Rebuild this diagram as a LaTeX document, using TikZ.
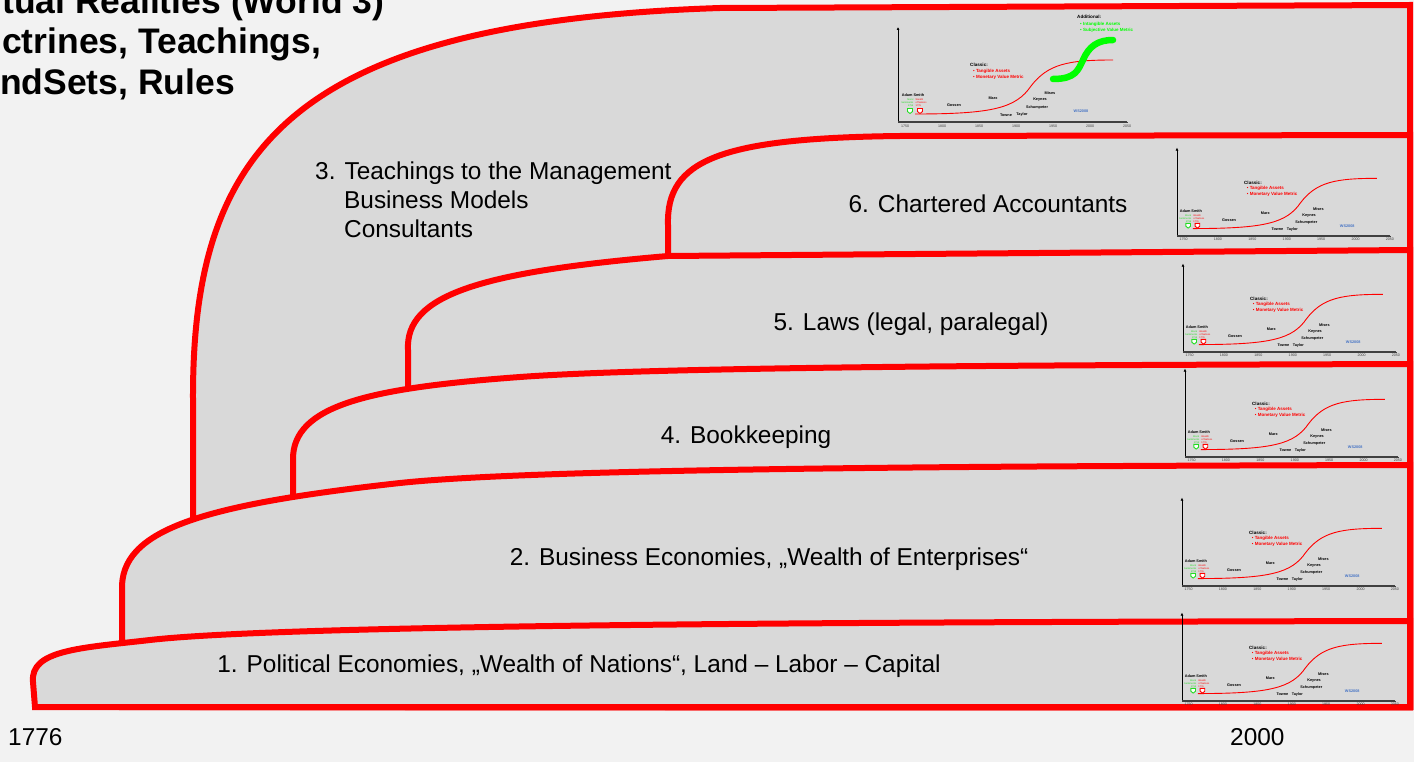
\documentclass[tikz,border=0pt]{standalone}
\usepackage{fontspec}
\setmainfont{Liberation Sans}
\usetikzlibrary{arrows.meta}
\tikzset{>={Latex[width=3pt,length=3pt]}}
\definecolor{bggray}{HTML}{F2F2F2}
\definecolor{layergray}{HTML}{D9D9D9}
\definecolor{framered}{HTML}{FF0000}
\definecolor{brightgreen}{HTML}{00FF00}
\definecolor{notegreen}{HTML}{22DD22}
\definecolor{noteblue}{HTML}{4472C4}
\definecolor{axisgray}{HTML}{404040}

\tikzset{
  charttext/.style={inner sep=0pt, font=\fontsize{3.8}{4.2}\selectfont\bfseries},
  ticktext/.style={inner sep=0pt, text=axisgray, font=\fontsize{3.6}{4}\selectfont},
  notetext/.style={inner sep=0pt, font=\fontsize{2.4}{2.9}\selectfont},
  bullettext/.style={inner sep=0pt, anchor=west, text=framered, font=\fontsize{4.5}{5}\selectfont\bfseries},
  minichart/.pic={
    %axes
    \draw[->, line width=0.8pt] (0,0) -- (0,-95);
    \draw[axisgray, line width=1.3pt] (0,0) -- (229,0);
    \foreach \yr in {1750,1800,...,2050} {
      \draw[axisgray, line width=0.4pt] ({7+(\yr-1750)*0.74},0) -- ++(0,1.5);
      \node[ticktext, anchor=north] (-t\yr) at ({7+(\yr-1750)*0.74},2.4) {\yr};
    }
    %classic curve
    \draw[framered, line width=0.9pt] (17,-8) .. controls (95,-8) and (118,-14) .. (133,-36) .. controls (150,-58) and (170,-62) .. (215,-62);
    \node[charttext, font=\fontsize{4.6}{5}\selectfont\bfseries, anchor=west] (-classic) at (72,-57) {Classic:};
    \node[bullettext] (-tangible) at (75,-51) {\textbullet\ Tangible Assets};
    \node[bullettext] (-monetary) at (75,-45) {\textbullet\ Monetary Value Metric};
    %smith
    \node[charttext] (-smith) at (15,-27) {Adam Smith};
    \node[notetext, text=notegreen, align=right, anchor=east] (-moral) at (15.5,-19) {Moral\\Sentiments\\1759};
    \node[notetext, text=framered, align=left, anchor=west] (-nations) at (17.5,-19) {Wealth\\of Nations\\1776};
    \draw[notegreen, line width=0.9pt, fill=white] (9.5,-13.5) -- (14.5,-13.5) -- (14.5,-10.5) -- (12,-8.5) -- (9.5,-10.5) -- cycle;
    \draw[framered, line width=0.9pt, fill=white] (19.5,-13.5) -- (24.5,-13.5) -- (24.5,-10.5) -- (22,-8.5) -- (19.5,-10.5) -- cycle;
    %economists
    \node[charttext] (-gossen) at (56,-17) {Gossen};
    \node[charttext] (-marx) at (95,-24) {Marx};
    \node[charttext] (-towne) at (108,-7) {Towne};
    \node[charttext] (-taylor) at (124,-7) {Taylor};
    \node[charttext] (-schumpeter) at (139,-14) {Schumpeter};
    \node[charttext] (-keynes) at (142,-22) {Keynes};
    \node[charttext] (-mises) at (152,-29) {Mises};
    \node[charttext, text=noteblue] (-now) at (183,-11) {WS2008};
  }
}

\begin{document}
\begin{tikzpicture}[x=1pt, y=-1pt,
  layer/.style={fill=layergray, draw=framered, line width=6pt},
  layertext/.style={font=\fontsize{24.4}{29}\selectfont, inner sep=0pt, anchor=base},
  headtext/.style={font=\fontsize{35.5}{42}\selectfont\bfseries, inner sep=0pt, anchor=base west}]

  %Background
  \useasboundingbox (0,0) rectangle (1414,762);
  \clip (0,0) rectangle (1414,762);
  \fill[bggray] (0,0) rectangle (1414,762);

  %Layers, back to front
  \draw[layer] (193,707) -- (193,400) .. controls (192,150) and (290,22) .. (720,8) -- (1410,5) -- (1410,707) -- cycle;
  \draw[layer] (668,707) -- (668,225) .. controls (666,160) and (720,138) .. (900,136) -- (1410,135) -- (1410,707) -- cycle;
  \draw[layer] (408,707) -- (408,350) .. controls (405,295) and (480,272) .. (668,256) -- (1410,250) -- (1410,707) -- cycle;
  \draw[layer] (293,707) -- (293,460) .. controls (292,405) and (370,388) .. (520,377) .. controls (670,366) and (1100,365) .. (1410,364) -- (1410,707) -- cycle;
  \draw[layer] (122,707) -- (122,590) .. controls (120,530) and (200,505) .. (400,483) .. controls (540,468) and (1000,466) .. (1410,465) -- (1410,707) -- cycle;
  \draw[layer] (35,707) -- (33,682) .. controls (30,650) and (80,648) .. (150,640) .. controls (290,624) and (900,622) .. (1410,621) -- (1410,707) -- cycle;

  %Nodes
  \node[headtext] (worldthree) at (2,13.5) {tual Realities (World 3)};
  \node[headtext] (doctrines) at (2,54) {ctrines, Teachings,};
  \node[headtext] (mindsets) at (0,95) {ndSets, Rules};

  \node[layertext, anchor=base west] (teachings) at (315,180) {3. Teachings to the Management};
  \node[layertext, anchor=base west] (models) at (344,209) {Business Models};
  \node[layertext, anchor=base west] (consultants) at (344,238) {Consultants};
  \node[layertext] (accountants) at (988,213) {6. Chartered Accountants};
  \node[layertext] (laws) at (911,330) {5. Laws (legal, paralegal)};
  \node[layertext] (bookkeeping) at (746,443) {4. Bookkeeping};
  \node[layertext] (business) at (769,565) {2. Business Economies, „Wealth of Enterprises“};
  \node[layertext] (political) at (579,672) {1. Political Economies, „Wealth of Nations“, Land – Labor – Capital};
  \node[layertext, anchor=base west] (start) at (8,745) {1776};
  \node[layertext, anchor=base west] (today) at (1230,745) {2000};

  %Charts
  \pic (chartworld) at (898,122) {minichart};
  \begin{scope}[shift={(898,122)}]
    \draw[brightgreen, line width=6.5pt, line cap=round] (155,-43) .. controls (178,-43) and (180,-52) .. (185,-62) .. controls (191,-76) and (200,-82) .. (215,-82);
    \node[charttext, font=\fontsize{4.6}{5}\selectfont\bfseries, anchor=west] (additional) at (179,-105) {Additional:};
    \node[bullettext, text=brightgreen] (intangible) at (182,-98) {\textbullet\ Intangible Assets};
    \node[bullettext, text=brightgreen] (subjective) at (182,-92) {\textbullet\ Subjective Value Metric};
  \end{scope}
  \pic[scale=0.93] (chartsix) at (1177,236) {minichart};
  \pic[scale=0.93] (chartfive) at (1183,352) {minichart};
  \pic[scale=0.93] (chartfour) at (1185,457) {minichart};
  \pic[scale=0.93] (charttwo) at (1182,586) {minichart};
  \pic[scale=0.93] (chartone) at (1182,701) {minichart};

\end{tikzpicture}
\end{document}
